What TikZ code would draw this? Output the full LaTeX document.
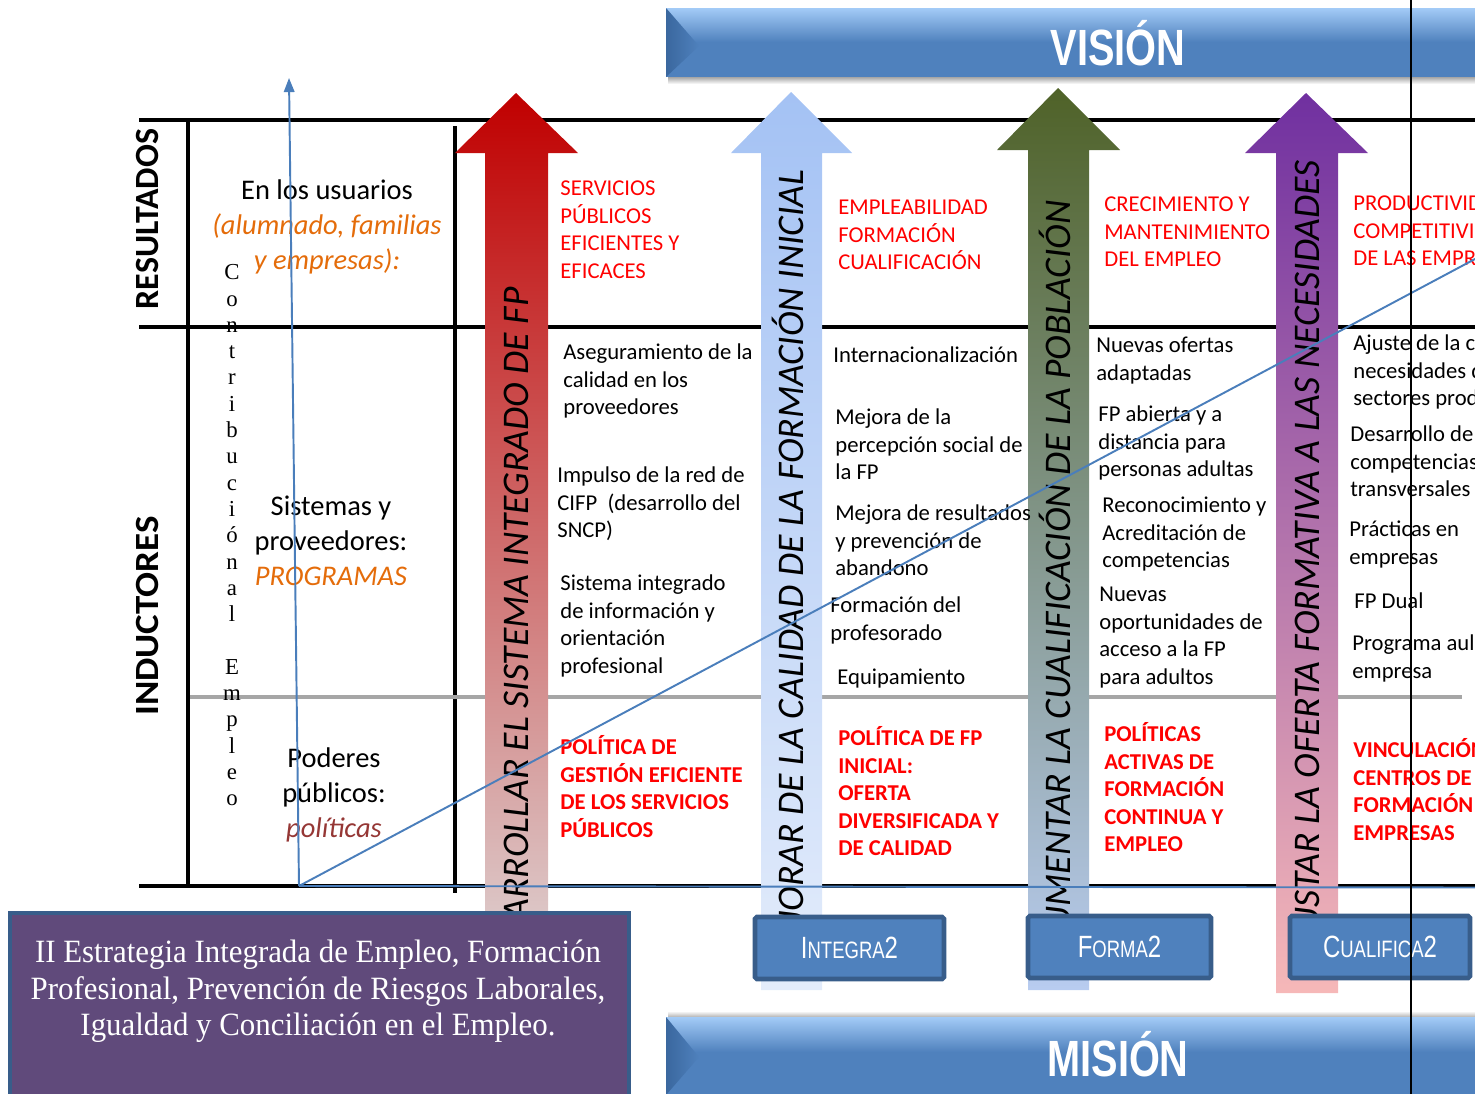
\documentclass[tikz,border=0pt]{standalone}
\usepackage{fontspec}
\setmainfont{Carlito}
\newfontfamily\serifcond[FakeStretch=0.95]{Liberation Serif}
\newfontfamily\serifplain{Liberation Serif}
\newfontfamily\narrowsans[FakeStretch=0.78]{Liberation Sans}
\usetikzlibrary{arrows.meta}
\definecolor{txtred}{HTML}{FF0000}
\definecolor{txtorange}{HTML}{E46C0A}
\definecolor{txtbrown}{HTML}{953735}
\definecolor{gridgray}{HTML}{A6A6A6}
\definecolor{axisblue}{HTML}{4A7EBB}
\definecolor{bannerblue}{HTML}{4F81BD}
\definecolor{bannerlight}{HTML}{A3CBF7}
\definecolor{bannerdark}{HTML}{3A679E}
\definecolor{boxborder}{HTML}{385D8A}
\definecolor{strategy}{HTML}{604A7B}
\definecolor{aonetop}{HTML}{C00000}
\definecolor{aonebot}{HTML}{DCC6C6}
\definecolor{atwotop}{HTML}{A4C2F4}
\definecolor{atwobot}{HTML}{E3ECFB}
\definecolor{athreetop}{HTML}{4F6228}
\definecolor{athreebot}{HTML}{B8CCF0}
\definecolor{afourtop}{HTML}{7030A0}
\definecolor{afourbot}{HTML}{F6B8B8}
\newcommand\progtxt[2]{{\fontsize{17.5}{20}\selectfont #1}{\fontsize{13.5}{16}\selectfont #2}{\fontsize{17.5}{20}\selectfont 2}}
\begin{document}
\begin{tikzpicture}[x=0.02cm,y=-0.02cm,
 body/.style={inner sep=0pt, anchor=north west, align=left, font=\fontsize{12.9}{15.65}\selectfont},
 redtxt/.style={body, text=txtred},
 redbold/.style={body, text=txtred, font=\fontsize{12.9}{15.65}\selectfont\bfseries},
 lefttxt/.style={inner sep=0pt, anchor=north, align=center, font=\fontsize{16.2}{19.8}\selectfont},
 arrowtxt/.style={inner sep=0pt, rotate=90, anchor=east, font=\fontsize{21.4}{25}\selectfont\itshape, text height=13.8pt, text depth=0pt},
 sidetxt/.style={inner sep=0pt, rotate=90, font=\fontsize{19.3}{23}\selectfont\bfseries},
 bannertxt/.style={inner sep=0pt, text=white, font=\narrowsans\bfseries\fontsize{29}{34}\selectfont, text height=20.8pt, text depth=0pt},
 gridline/.style={line width=2.8pt, black},
 grayline/.style={line width=2.2pt, gridgray},
 axis/.style={line width=1.1pt, axisblue},
 progbox/.style={draw=boxborder, line width=2.6pt, fill=bannerblue, text=white, font=\narrowsans, inner sep=0pt, rounded corners=1pt, minimum height=1.24cm}
]
\useasboundingbox (0,0) rectangle (1475,1093);
\clip (0,0) rectangle (1475,1093);

% ---------- banners ----------
\shade[top color=black!35, bottom color=white] (668,77) rectangle (1480,84);
\fill[bannerblue] (666,8) rectangle (1480,77);
\shade[top color=bannerlight, bottom color=bannerblue] (666,8) rectangle (1480,42);
\shade[left color=bannerdark, right color=bannerblue] (666,8) -- (699,46) -- (666,77) -- cycle;
\node[bannertxt] (vision) at (1118,47) {VISIÓN};

\shade[top color=white, bottom color=black!30] (668,1011) rectangle (1480,1017);
\fill[bannerblue] (666,1017) rectangle (1480,1095);
\shade[top color=bannerlight, bottom color=bannerblue] (666,1017) rectangle (1480,1052);
\shade[left color=bannerdark, right color=bannerblue] (666,1017) -- (699,1057) -- (666,1095) -- cycle;
\node[bannertxt] (mision) at (1118,1058) {MISIÓN};

% ---------- grid ----------
\draw[gridline] (139,120) -- (1480,120);
\draw[gridline] (139,327) -- (1480,327);
\draw[gridline] (139,886) -- (1480,886);
\draw[gridline] (188,120) -- (188,886);
\draw[gridline] (455,126) -- (455,893);
\draw[grayline] (190,697) -- (1462,697);

% ---------- big arrows ----------
\begin{scope}
\shade[top color=aonetop, bottom color=aonebot] (485,915) -- (485,153) -- (455,153) -- (516,93) -- (578,153) -- (548,153) -- (548,915) -- cycle;
\clip (485,150) rectangle (548,914);
\node[arrowtxt] (aone) at (516.5,287) {DESARROLLAR EL SISTEMA INTEGRADO DE FP};
\end{scope}
\begin{scope}
\shade[top color=atwotop, bottom color=atwobot] (761,990) -- (761,153) -- (731,153) -- (791,92) -- (852,153) -- (822,153) -- (822,990) -- cycle;
\clip (761,150) rectangle (822,914);
\node[arrowtxt] (atwo) at (791.5,169) {MEJORAR DE LA CALIDAD DE LA FORMACIÓN INICIAL};
\end{scope}
\begin{scope}
\shade[top color=athreetop, bottom color=athreebot] (1028,990) -- (1028,150) -- (997,150) -- (1058,88) -- (1120,150) -- (1089,150) -- (1089,990) -- cycle;
\clip (1028,150) rectangle (1089,914);
\node[arrowtxt] (athree) at (1058.5,200) {AUMENTAR LA CUALIFICACIÓN DE LA POBLACIÓN};
\end{scope}
\begin{scope}
\shade[top color=afourtop, bottom color=afourbot] (1276,993) -- (1276,153) -- (1245,153) -- (1306,93) -- (1368,153) -- (1338,153) -- (1338,993) -- cycle;
\clip (1276,150) rectangle (1338,914);
\node[arrowtxt] (afour) at (1307,160) {AJUSTAR LA OFERTA FORMATIVA A LAS NECESIDADES};
\end{scope}

% ---------- left labels ----------
\node[sidetxt] (resultados) at (148,219) {RESULTADOS};
\node[sidetxt] (inductores) at (148,616) {\scalebox{1.09}[1]{INDUCTORES}};
\node[lefttxt] (usuarios) at (327,175) {\strut En los usuarios\\{\color{txtorange}\itshape (alumnado, familias}\\{\color{txtorange}\itshape y empresas):}};
\node[lefttxt] (sistemas) at (331,491) {\strut Sistemas y\\proveedores:\\{\color{txtorange}\itshape PROGRAMAS}};
\node[lefttxt] (poderes) at (334,743) {\strut Poderes\\públicos:\\{\color{txtbrown}\itshape políticas}};
\node[inner sep=0pt, anchor=north, align=center, font=\serifplain\fontsize{13}{14.97}\selectfont] (contrib) at (232,261)
 {\strut C\\o\\n\\t\\r\\i\\b\\u\\c\\i\\ó\\n\\a\\l\\\mbox{}\\E\\m\\p\\l\\e\\o};

% ---------- results row ----------
\node[redtxt] (r1) at (560,176) {\strut SERVICIOS\\PÚBLICOS\\EFICIENTES Y\\EFICACES};
\node[redtxt] (r2) at (838,195) {\strut EMPLEABILIDAD\\FORMACIÓN\\CUALIFICACIÓN};
\node[redtxt] (r3) at (1104,192) {\strut CRECIMIENTO Y\\MANTENIMIENTO\\DEL EMPLEO};
\node[redtxt] (r4) at (1353,191) {\strut PRODUCTIVIDAD Y\\COMPETITIVIDAD\\DE LAS EMPRESAS};

% ---------- programmes ----------
\node[body] (p1a) at (563,340) {\strut Aseguramiento de la\\calidad en los\\proveedores};
\node[body] (p1b) at (557,463) {\strut Impulso de la red de\\CIFP\ \ (desarrollo del\\SNCP)};
\node[body] (p1c) at (560,571) {\strut Sistema integrado\\de información y\\orientación\\profesional};

\node[body] (p2a) at (833,343) {\strut Internacionalización};
\node[body] (p2b) at (835,405) {\strut Mejora de la\\percepción social de\\la FP};
\node[body] (p2c) at (835,501) {\strut Mejora de resultados\\y prevención de\\abandono};
\node[body] (p2d) at (830,593) {\strut Formación del\\profesorado};
\node[body] (p2e) at (837,665) {\strut Equipamiento};

\node[body] (p3a) at (1096,333) {\strut Nuevas ofertas\\adaptadas};
\node[body] (p3b) at (1098,402) {\strut FP abierta y a\\distancia para\\personas adultas};
\node[body] (p3c) at (1102,493) {\strut Reconocimiento y\\Acreditación de\\competencias};
\node[body] (p3d) at (1099,582) {\strut Nuevas\\oportunidades de\\acceso a la FP\\para adultos};

\node[body] (p4a) at (1353,331) {\strut Ajuste de la cualificación a las\\necesidades de los\\sectores productivos};
\node[body] (p4b) at (1350,422) {\strut Desarrollo de\\competencias\\transversales};
\node[body] (p4c) at (1349,517) {\strut Prácticas en\\empresas};
\node[body] (p4d) at (1354,589) {\strut FP Dual};
\node[body] (p4e) at (1352,631) {\strut Programa aula-\\empresa};

% ---------- policies ----------
\node[redbold] (q1) at (560,735) {\strut POLÍTICA DE\\GESTIÓN EFICIENTE\\DE LOS SERVICIOS\\PÚBLICOS};
\node[redbold] (q2) at (838,726) {\strut POLÍTICA DE FP\\INICIAL:\\OFERTA\\DIVERSIFICADA Y\\DE CALIDAD};
\node[redbold] (q3) at (1104,722) {\strut POLÍTICAS\\ACTIVAS DE\\FORMACIÓN\\CONTINUA Y\\EMPLEO};
\node[redbold] (q4) at (1353,738) {\strut VINCULACIÓN\\CENTROS DE\\FORMACIÓN -\\EMPRESAS};

% ---------- boxes ----------
\node[progbox, minimum width=3.78cm] (integra) at (849.5,948) {\progtxt{I}{NTEGRA}};
\node[progbox, minimum width=3.66cm] (forma) at (1119.5,947) {\progtxt{F}{ORMA}};
\node[progbox, minimum width=3.6cm] (cualifica) at (1380,947) {\progtxt{C}{UALIFICA}};

\draw[line width=2.2pt, draw=boxborder, fill=strategy] (10,913) rectangle (629,1100);
\node[inner sep=0pt, anchor=north, align=center, text=white, font=\serifcond\fontsize{18.5}{21}\selectfont] (estrategia) at (318,936)
 {\strut II Estrategia Integrada de Empleo, Formación\\Profesional, Prevención de Riesgos Laborales,\\Igualdad y Conciliación en el Empleo.};

% ---------- axes ----------
\coordinate (orig) at (299,886);
\coordinate (ytip) at (289,78);
\coordinate (diagend) at (1490,251);
\coordinate (xend) at (1480,887.5);
\draw[axis, -{Triangle[width=6pt,length=8pt]}] (orig) -- (ytip);
\draw[axis] (orig) -- (diagend);
\draw[axis] (orig) -- (xend);

% ---------- thin marker line ----------
\draw[line width=0.9pt, black] (1411,-5) -- (1411,1100);
\end{tikzpicture}
\end{document}
